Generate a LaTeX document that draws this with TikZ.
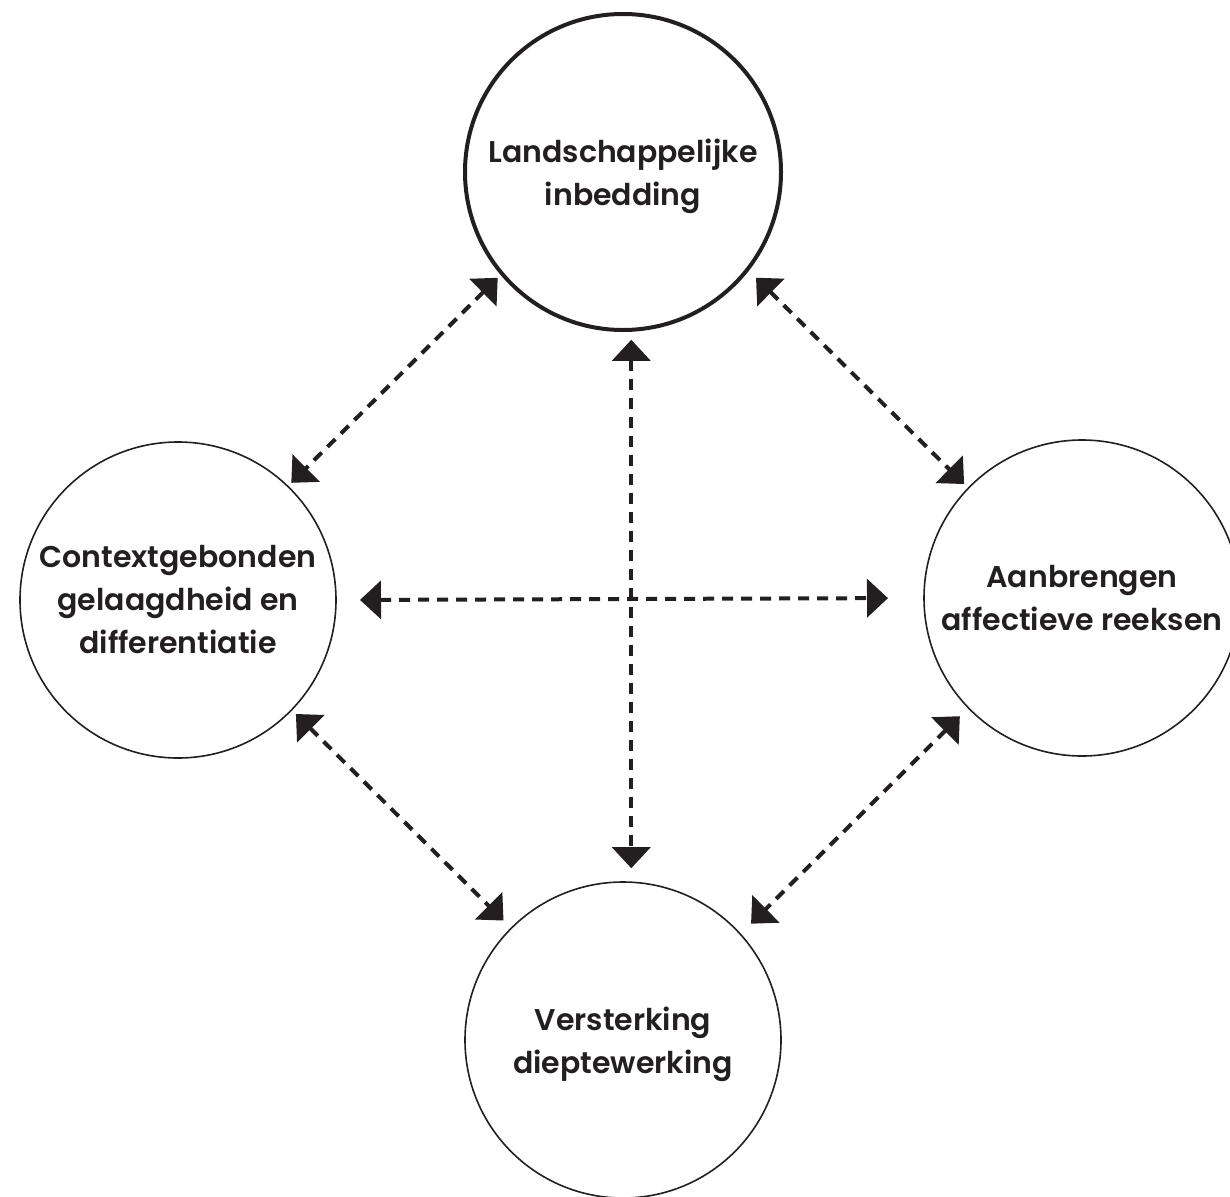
\documentclass[tikz,border=0pt]{standalone}
\usepackage{fontspec}
\setmainfont{Poppins}[BoldFont=* SemiBold]
\usetikzlibrary{arrows.meta}
\definecolor{ink}{RGB}{35,31,32}
\begin{document}
\begin{tikzpicture}[x=1pt,y=-1pt,
  bubble/.style={circle, draw=ink, line width=1.6pt, minimum size=316pt,
    inner sep=0pt, outer sep=0pt, align=center, text=ink,
    font=\fontsize{30}{43}\selectfont\bfseries},
  mainbubble/.style={bubble, line width=4pt},
  link/.style={draw=ink, line width=4pt, dash pattern=on 11pt off 8pt,
    {Triangle[length=21pt,width=38pt]}-{Triangle[length=21pt,width=38pt]}}]
\useasboundingbox (0,0) rectangle (1230,1196);

% the four themes
\node[mainbubble] (T) at (623,172) {\rule{0pt}{1.05em}Landschappelijke\\inbedding};
\node[bubble] (L) at (178,600) {Contextgebonden\\gelaagdheid en\\differentiatie};
\node[bubble] (R) at (1082,598) {Aanbrengen\\affectieve reeksen};
\node[bubble] (B) at (623,1040) {\rule{0pt}{1.05em}Versterking\\dieptewerking};

% mutual relations
\draw[link, shorten <=10pt, shorten >=14pt] (T.273) -- (B.87);
\draw[link, shorten <=24pt, shorten >=36pt] (L.0) -- (R.180);
\draw[link, shorten <=6pt, shorten >=5pt] (T.220) -- (L.46);
\draw[link, shorten <=12pt, shorten >=6pt] (T.322) -- (R.136);
\draw[link, shorten <=6pt, shorten >=11pt] (L.316) -- (B.135);
\draw[link, shorten <=12pt, shorten >=15pt] (R.224) -- (B.42);
\end{tikzpicture}
\end{document}
